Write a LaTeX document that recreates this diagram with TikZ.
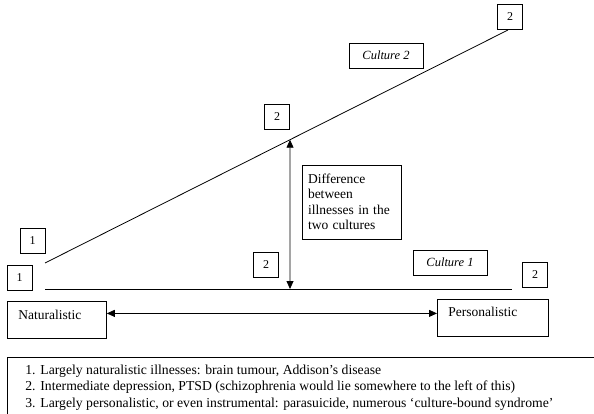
\documentclass[tikz,border=0pt]{standalone}
\usepackage{fontspec}
\setmainfont{Liberation Serif}
\usetikzlibrary{arrows.meta}

\tikzset{
  numbox/.style={draw,minimum width=25pt,minimum height=25pt,inner sep=0pt,font=\fontsize{12}{14}\selectfont},
  culbox/.style={draw,minimum width=74pt,minimum height=25pt,inner sep=0pt,font=\itshape\fontsize{12.5}{14}\selectfont},
  endbox/.style={draw,anchor=north west,minimum height=37pt,align=left,inner xsep=11pt,inner ysep=4pt,font=\fontsize{13.5}{16}\selectfont},
  legline/.style={anchor=base west,inner sep=0pt,font=\fontsize{13.7}{16}\selectfont},
  tri/.tip={Triangle[length=8pt,width=7pt]}
}

\begin{document}
\begin{tikzpicture}[x=1pt,y=-1pt,line width=0.8pt]
    \clip (0,0) rectangle (594,414);
    \coordinate (c1a) at (45,289);
    \coordinate (c1b) at (512,289);
    \coordinate (c2a) at (45,263);
    \coordinate (c2b) at (508,30);
    \draw (c1a) -- (c1b);
    \draw (c2a) -- (c2b);
    % \draw[help lines] (0,0) grid[step=50] (594,414);
    \node[numbox] (n1a) at (32.5,240.5) {1};
    \node[numbox] (n1b) at (19.5,278) {1};
    \node[numbox] (n2a) at (277,116.5) {2};
    \node[numbox] (n2b) at (266,264.5) {2};
    \node[numbox] (n2c) at (535,274.5) {2};
    \node[numbox] (n2d) at (510,17) {2};
    \node[culbox] (cul2) at (386,55.5) {Culture 2};
    \node[culbox] (cul1) at (450,262.5) {Culture 1};
    \coordinate (dtop) at (intersection of c2a--c2b and 290,0--290,1);
    \coordinate (dbot) at (intersection of c1a--c1b and 290,0--290,1);
    \draw[tri-tri] (dtop) -- (dbot);
    \node[draw,minimum width=99pt,minimum height=74pt,text width=87pt,inner xsep=6pt,
      align=left,font=\fontsize{13.5}{15.5}\selectfont] (diff) at (351.5,202)
      {Difference\\between\\illnesses in the\\two cultures};
    \node[endbox,minimum width=99pt,text width=77pt,text height=14pt,text depth=15pt] (nat) at (7,301) {Naturalistic};
    \node[endbox,minimum width=111pt,text width=89pt,text height=13pt,text depth=16pt] (pers) at (437,299) {Personalistic};
    \draw[tri-tri] ([yshift=6.5pt]nat.east) -- ([yshift=4.5pt]pers.west);
    \node[draw,anchor=north west,minimum width=600pt,minimum height=70pt] (legend) at (7,357) {};
    \node[legline] (leg1) at (25,374) {\makebox[15pt][l]{1.}Largely naturalistic illnesses: brain tumour, Addison's disease};
    \node[legline] (leg2) at (25,390) {\makebox[15pt][l]{2.}Intermediate depression, PTSD (schizophrenia would lie somewhere to the left of this)};
    \node[legline] (leg3) at (25,407) {\makebox[15pt][l]{3.}Largely personalistic, or even instrumental: parasuicide, numerous `culture-bound syndrome'};
\end{tikzpicture}
\end{document}
